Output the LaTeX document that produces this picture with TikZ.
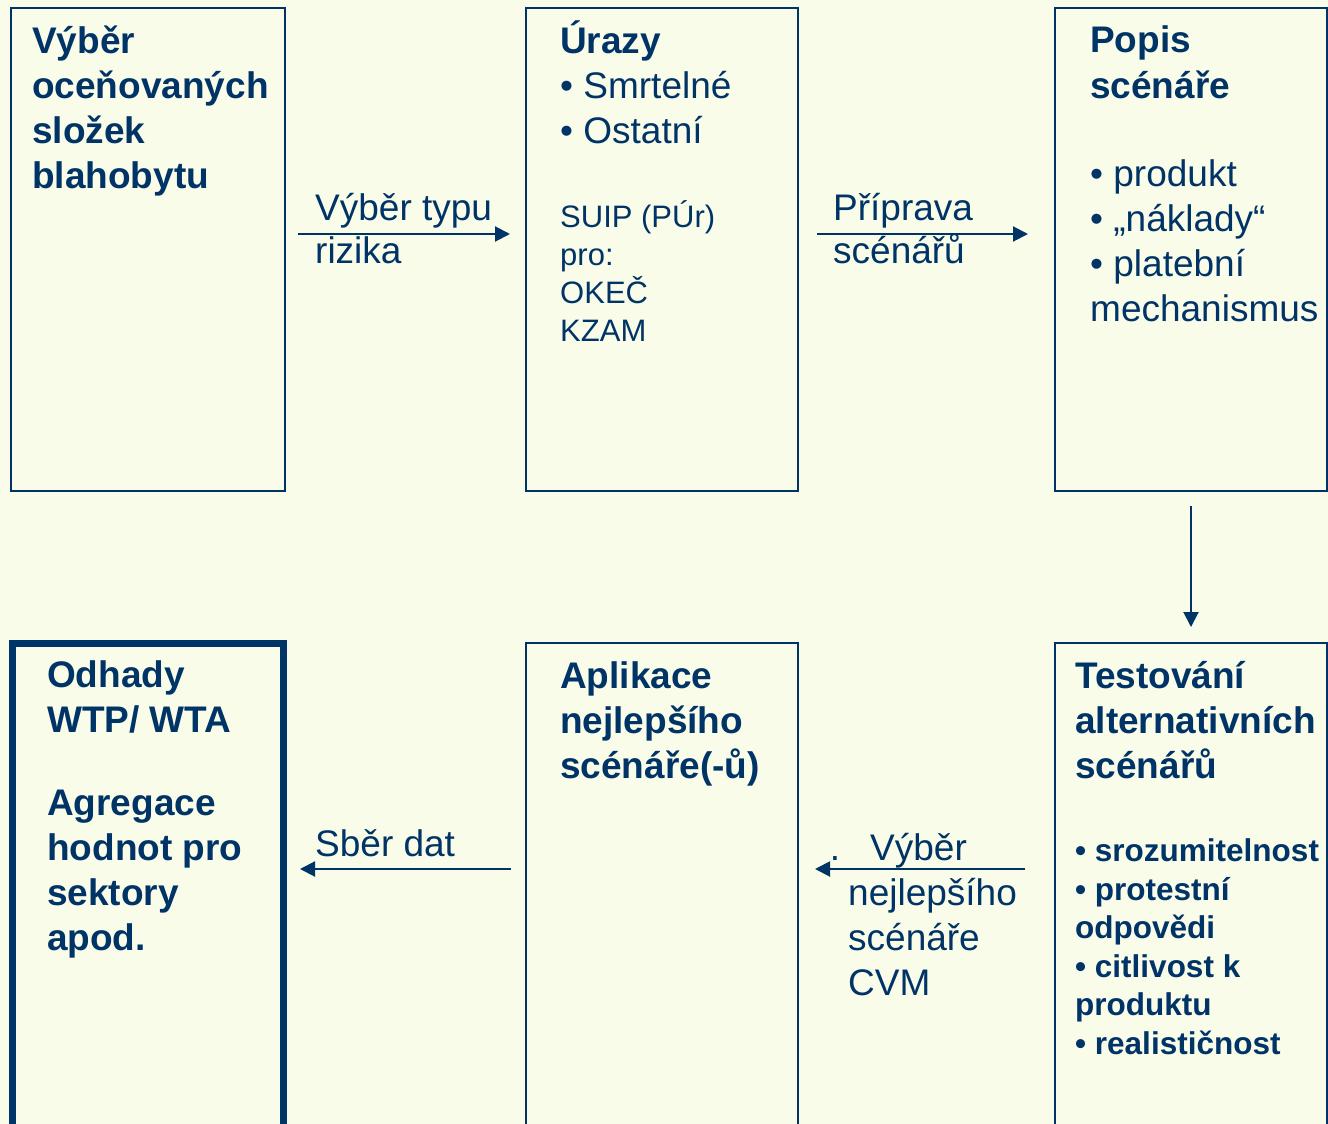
\documentclass[tikz,border=0pt]{standalone}
\usepackage{fontspec}
\setmainfont{Liberation Sans}
\usetikzlibrary{positioning,arrows.meta}
\definecolor{navy}{RGB}{0,51,102}
\definecolor{cream}{RGB}{250,252,234}

\begin{document}
\begin{tikzpicture}[x=1pt,y=-1pt,
        box/.style={draw=navy, line width=2pt, rectangle, inner sep=0pt, outer sep=0pt, minimum width=272pt, minimum height=483pt},
        lowbox/.style={box, minimum height=500pt},
        txt/.style={anchor=base west, align=left, inner sep=0pt, text=navy, font=\fontsize{37}{45}\selectfont},
        head/.style={txt, font=\fontsize{37}{45}\selectfont\bfseries},
        small/.style={txt, font=\fontsize{31}{38}\selectfont},
        lbl/.style={txt, font=\fontsize{37}{43}\selectfont},
        flow/.style={draw=navy, line width=2pt, -{Triangle[length=15pt,width=15pt]}},
        node distance=152pt]
    \useasboundingbox (0,0) rectangle (1328,1124);
    \clip (0,0) rectangle (1328,1124);
    \fill[cream] (0,0) rectangle (1328,1124);

    % top row
    \node[box, minimum width=274pt] (b1) at (148,249.5) {};
    \node[box, right=241pt of b1] (b2) {};
    \node[box, right=257pt of b2] (b3) {};
    % bottom row
    \node[lowbox, line width=7pt, minimum width=271pt, below=of b1] (b4) {};
    \node[lowbox, below=of b2] (b5) {};
    \node[lowbox, below=of b3] (b6) {};

    % texts, placed by the baseline of their last line
    \node[head] (t1) at (32,188) {Výběr\\oceňovaných\\složek\\blahobytu};
    \node[txt] (t2) at (560,143) {\textbf{Úrazy}\\• Smrtelné\\• Ostatní};
    \node[small] (t2b) at (560,341) {SUIP (PÚr)\\pro:\\OKEČ\\KZAM};
    \node[head] (t3) at (1090,98) {Popis\\scénáře};
    \node[txt] (t3b) at (1090,321) {• produkt\\• „náklady“\\• platební\\mechanismus};
    \node[head] (t4) at (47,950) {Odhady\\WTP/ WTA\\[38pt]Agregace\\hodnot pro\\sektory\\apod.};
    \node[head] (t5) at (560,778) {Aplikace\\nejlepšího\\scénáře(-ů)};
    \node[head] (t6) at (1075,778) {Testování\\alternativních\\scénářů};
    \node[txt, font=\fontsize{31.5}{38.5}\selectfont\bfseries] (t6b) at (1075,1054)
        {• srozumitelnost\\• protestní\\odpovědi\\• citlivost k\\produktu\\• realističnost};

    % connectors
    \coordinate (a1s) at (298,234);  \coordinate (a1e) at (510,234);
    \coordinate (a2s) at (817,234);  \coordinate (a2e) at (1028,234);
    \coordinate (a3s) at (1191,506); \coordinate (a3e) at (1191,627);
    \coordinate (a4s) at (1025,869); \coordinate (a4e) at (815,869);
    \coordinate (a5s) at (511,869);  \coordinate (a5e) at (300,869);
    \draw[flow] (a1s) -- (a1e);
    \draw[flow] (a2s) -- (a2e);
    \draw[flow] (a3s) -- (a3e);
    \draw[flow] (a4s) -- (a4e);
    \draw[flow] (a5s) -- (a5e);

    \node[lbl] (l1) at (315,263) {Výběr typu\\rizika};
    \node[lbl] (l2) at (833,263) {Příprava\\scénářů};
    \node[lbl, font=\fontsize{37}{45}\selectfont] (l4) at (848,995)
        {\llap{.\hspace{8pt}}\hspace{22pt}Výběr\\nejlepšího\\scénáře\\CVM};
    \node[lbl] (l5) at (315,856) {Sběr dat};
\end{tikzpicture}
\end{document}
